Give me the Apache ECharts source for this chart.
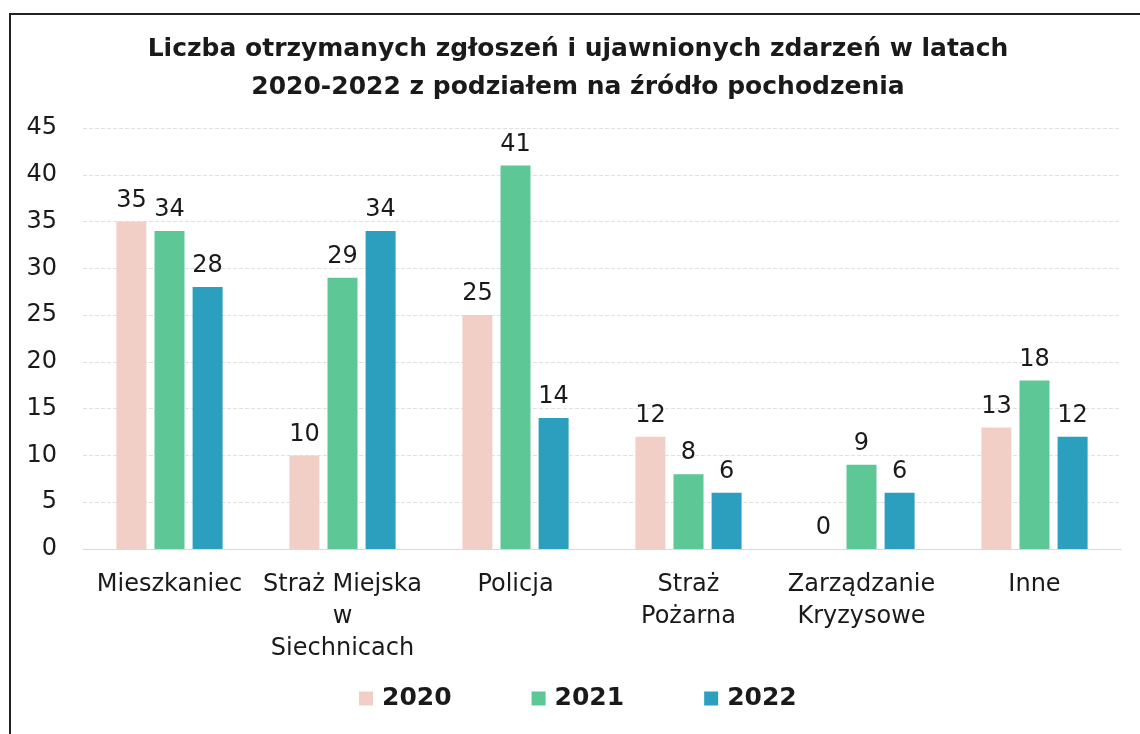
<!DOCTYPE html>
<html><head><meta charset="utf-8">
<script src="https://cdn.jsdelivr.net/npm/echarts@6/dist/echarts.min.js"></script>
<style>html,body{margin:0;padding:0;background:#fff}#c{width:1140px;height:734px}</style>
</head><body><div id="c"></div>
<script>
const categories = ['Mieszkaniec', 'Straż Miejska\nw\nSiechnicach', 'Policja', 'Straż\nPożarna', 'Zarządzanie\nKryzysowe', 'Inne'];
const yearNames = ['2020', '2021', '2022'];
const values2020 = [35, 10, 25, 12, 0, 13];
const values2021 = [34, 29, 41, 8, 9, 18];
const values2022 = [28, 34, 14, 6, 6, 12];
const yTicks = {min: 0, max: 45, interval: 5};
const colors = ['#f2cfc6', '#5ec796', '#2b9fbd'];
const font = 'DejaVu Sans, Verdana, sans-serif';

const chart = echarts.init(document.getElementById('c'), null, {renderer: 'canvas'});
const seriesData = [values2020, values2021, values2022];
chart.setOption({
  animation: false,
  backgroundColor: '#fff',
  title: {
    text: 'Liczba otrzymanych zgłoszeń i ujawnionych zdarzeń w latach\n2020-2022 z podziałem na źródło pochodzenia',
    left: 573, top: 25, textAlign: 'center',
    textStyle: {fontFamily: font, fontSize: 25, fontWeight: 'bold', color: '#1a1a1a', lineHeight: 38, align: 'center'}
  },
  legend: {
    data: yearNames, bottom: 18, left: 354, itemWidth: 14, itemHeight: 14, itemGap: 80,
    icon: 'rect',
    textStyle: {fontFamily: font, fontSize: 25, fontWeight: 'bold', color: '#1a1a1a', padding: [0, 0, 0, 4]}
  },
  grid: {left: 83, right: 19, top: 128, bottom: 185, containLabel: false},
  xAxis: {
    type: 'category', data: categories,
    axisLine: {show: true, lineStyle: {color: '#d9d9d9'}},
    axisTick: {show: false},
    axisLabel: {fontFamily: font, fontSize: 24, color: '#1a1a1a', lineHeight: 32, margin: 20, interval: 0}
  },
  yAxis: {
    type: 'value', min: yTicks.min, max: yTicks.max, interval: yTicks.interval,
    axisLine: {show: false}, axisTick: {show: false},
    splitLine: {lineStyle: {color: '#e0e0e0', type: 'dashed'}},
    axisLabel: {fontFamily: font, fontSize: 24, color: '#1a1a1a', margin: 26}
  },
  series: yearNames.map((n, i) => ({
    name: n, type: 'bar', data: seriesData[i], barWidth: 30, barGap: '27%',
    itemStyle: {color: colors[i]},
    label: {show: true, position: 'top', distance: 9, fontFamily: font, fontSize: 24, color: '#1a1a1a'}
  })),
  graphic: [{
    type: 'rect', shape: {x: 10, y: 14, width: 1140, height: 740},
    style: {fill: 'none', stroke: '#222', lineWidth: 2}, silent: true
  }]
});
</script></body></html>
